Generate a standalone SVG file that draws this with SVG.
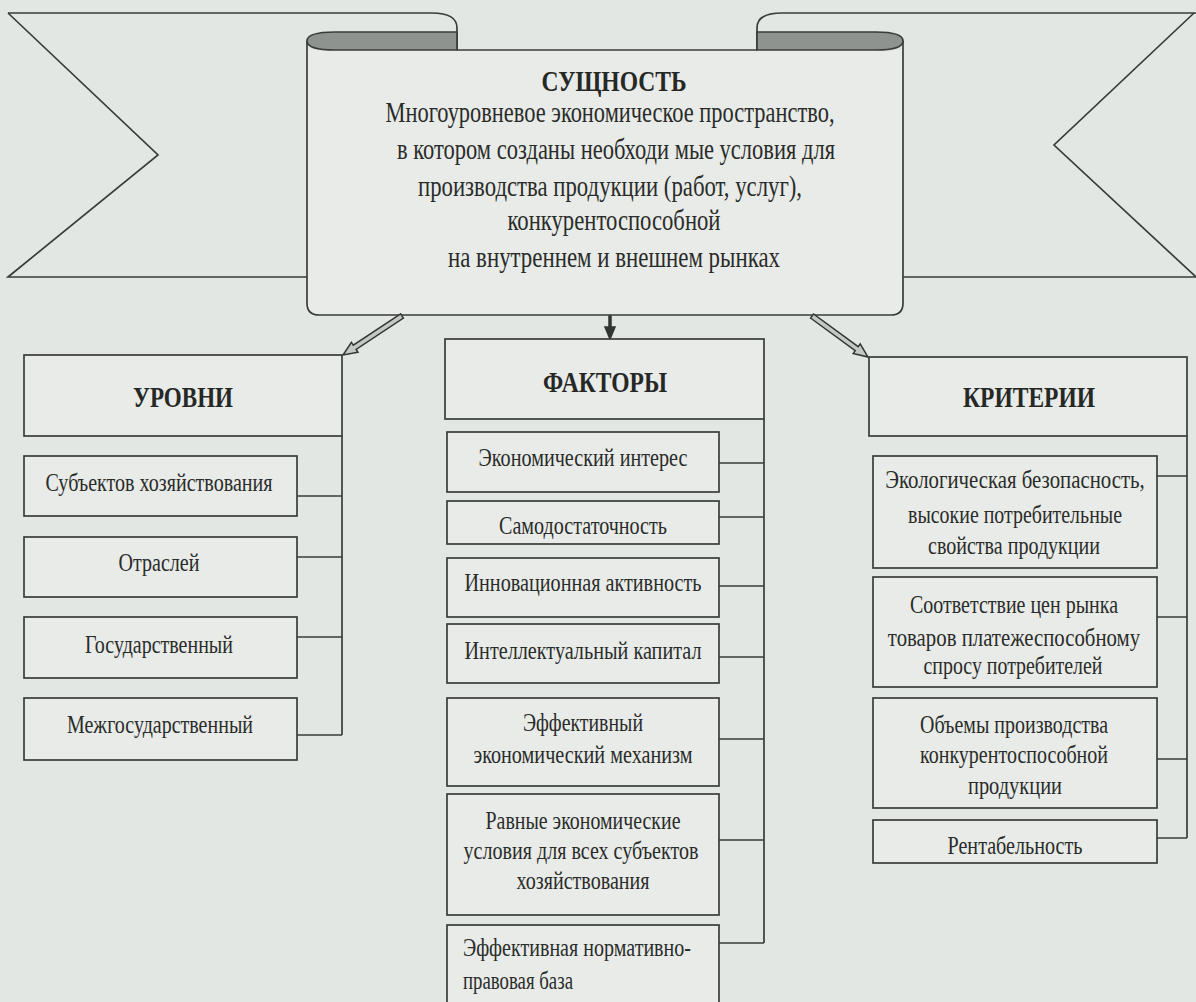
<svg xmlns="http://www.w3.org/2000/svg" width="1196" height="1002" viewBox="0 0 1196 1002">
<style>
.ln{fill:none;stroke:#3a3c3a;stroke-width:1.7}
.bx{fill:#e8ebe8;stroke:#3a3c3a;stroke-width:1.7}
.cap{fill:#8f9390;stroke:#3a3c3a;stroke-width:1.7}
.t{font-family:"Liberation Serif","Times New Roman",serif;font-size:26px;fill:#2a2c2a;text-anchor:middle}
.tl{font-family:"Liberation Serif","Times New Roman",serif;font-size:26px;fill:#2a2c2a;text-anchor:start}
.s{font-family:"Liberation Serif","Times New Roman",serif;font-size:30px;fill:#2a2c2a;text-anchor:middle}
.h{font-family:"Liberation Serif","Times New Roman",serif;font-size:30px;font-weight:bold;fill:#262826;text-anchor:middle}
.ar{fill:#c4c8c4;stroke:#333533;stroke-width:1.5;stroke-linejoin:miter}
</style>
<rect x="0" y="0" width="1196" height="1002" fill="#e3e7e3"/>

<g id="banner">
<path class="ln" d="M8,13 L432,13 Q457,13 457,28 L457,50"/>
<path class="ln" d="M757,50 L757,28 Q757,13 782,13 L1196,13"/>
<path class="ln" d="M8,13 L158,155 L8,277 L307,277"/>
<path class="ln" d="M903,277 L1196,277 M1194,13 L1054,145 L1196,277"/>
</g>

<g id="essence">
<path class="bx" d="M307,41 L307,303 Q307,315 319,315 L891,315 Q903,315 903,303 L903,41 L903,50 L307,50 Z" style="stroke:none"/>
<path class="ln" d="M307,41 L307,303 Q307,315 319,315 L891,315 Q903,315 903,303 L903,41"/>
<path class="ln" d="M457,50 L757,50"/>
<path class="cap" d="M457,32 L335,32 C314,32 307,36 307,41 C307,46 314,50 335,50 L457,50 Z"/>
<path class="cap" d="M757,32 L876,32 C897,32 903,36 903,41 C903,46 897,50 876,50 L757,50 Z"/>
<text class="h" x="614" y="91" textLength="145" lengthAdjust="spacingAndGlyphs">СУЩНОСТЬ</text>
<text class="s" x="610" y="122" textLength="449" lengthAdjust="spacingAndGlyphs">Многоуровневое экономическое пространство,</text>
<text class="s" x="616" y="159" textLength="438" lengthAdjust="spacingAndGlyphs">в котором созданы необходи мые условия для</text>
<text class="s" x="610" y="196" textLength="384" lengthAdjust="spacingAndGlyphs">производства продукции (работ, услуг),</text>
<text class="s" x="614" y="230" textLength="213" lengthAdjust="spacingAndGlyphs">конкурентоспособной</text>
<text class="s" x="614" y="267" textLength="332" lengthAdjust="spacingAndGlyphs">на внутреннем и внешнем рынках</text>
</g>

<g id="connectors">
<polygon class="ar" points="400.6,313.9 353.3,345.2 351.4,342.3 343,355 358.0,352.3 356.1,349.4 403.4,318.1"/>
<polygon class="ar" points="609,316 609,327 605,327 610,339 615,327 611,327 611,316" style="fill:#333533"/>
<polygon class="ar" points="810.5,318.0 855.2,350.7 853.2,353.5 868,357 860.2,343.9 858.2,346.7 813.5,314.0"/>
<path class="ln" d="M342,436 L342,735 M297,496 L342,496 M297,557 L342,557 M297,637 L342,637 M297,735 L342,735"/>
<path class="ln" d="M764,419 L764,943 M719,463 L764,463 M719,517 L764,517 M719,586 L764,586 M719,657 L764,657 M719,739 L764,739 M719,840 L764,840 M719,943 L764,943"/>
<path class="ln" d="M1187,436 L1187,838 M1157,476 L1187,476 M1157,617 L1187,617 M1157,759 L1187,759 M1157,838 L1187,838"/>
</g>

<g id="levels">
<rect class="bx" x="24" y="355" width="318" height="81"/>
<text class="h" x="183" y="407" textLength="100" lengthAdjust="spacingAndGlyphs">УРОВНИ</text>
</g>
<g id="lvl1"><rect class="bx" x="24" y="456" width="273" height="60"/><text class="t" x="159" y="491" textLength="227" lengthAdjust="spacingAndGlyphs">Субъектов хозяйствования</text></g>
<g id="lvl2"><rect class="bx" x="24" y="537" width="273" height="60"/><text class="t" x="159" y="571" textLength="81" lengthAdjust="spacingAndGlyphs">Отраслей</text></g>
<g id="lvl3"><rect class="bx" x="24" y="617" width="273" height="61"/><text class="t" x="159" y="653" textLength="148" lengthAdjust="spacingAndGlyphs">Государственный</text></g>
<g id="lvl4"><rect class="bx" x="24" y="698" width="273" height="62"/><text class="t" x="160" y="733" textLength="186" lengthAdjust="spacingAndGlyphs">Межгосударственный</text></g>

<g id="factors">
<rect class="bx" x="445" y="339" width="319" height="80"/>
<text class="h" x="605" y="392" textLength="124" lengthAdjust="spacingAndGlyphs">ФАКТОРЫ</text>
</g>
<g id="f1"><rect class="bx" x="447" y="432" width="272" height="60"/><text class="t" x="583" y="466" textLength="209" lengthAdjust="spacingAndGlyphs">Экономический интерес</text></g>
<g id="f2"><rect class="bx" x="447" y="501" width="272" height="43"/><text class="t" x="583" y="534" textLength="168" lengthAdjust="spacingAndGlyphs">Самодостаточность</text></g>
<g id="f3"><rect class="bx" x="447" y="558" width="272" height="59"/><text class="t" x="583" y="591" textLength="237" lengthAdjust="spacingAndGlyphs">Инновационная активность</text></g>
<g id="f4"><rect class="bx" x="447" y="624" width="272" height="59"/><text class="t" x="583" y="659" textLength="237" lengthAdjust="spacingAndGlyphs">Интеллектуальный капитал</text></g>
<g id="f5"><rect class="bx" x="447" y="698" width="272" height="88"/>
<text class="t" x="583" y="731" textLength="120" lengthAdjust="spacingAndGlyphs">Эффективный</text>
<text class="t" x="583" y="763" textLength="219" lengthAdjust="spacingAndGlyphs">экономический механизм</text></g>
<g id="f6"><rect class="bx" x="447" y="794" width="272" height="121"/>
<text class="t" x="583" y="829" textLength="195" lengthAdjust="spacingAndGlyphs">Равные экономические</text>
<text class="t" x="581" y="859" textLength="235" lengthAdjust="spacingAndGlyphs">условия для всех субъектов</text>
<text class="t" x="583" y="889" textLength="133" lengthAdjust="spacingAndGlyphs">хозяйствования</text></g>
<g id="f7"><rect class="bx" x="447" y="925" width="272" height="90"/>
<text class="tl" x="463" y="956" textLength="228" lengthAdjust="spacingAndGlyphs">Эффективная нормативно-</text>
<text class="tl" x="463" y="989" textLength="110" lengthAdjust="spacingAndGlyphs">правовая база</text></g>

<g id="criteria">
<rect class="bx" x="869" y="357" width="318" height="79"/>
<text class="h" x="1029" y="407" textLength="132" lengthAdjust="spacingAndGlyphs">КРИТЕРИИ</text>
</g>
<g id="c1"><rect class="bx" x="873" y="456" width="284" height="112"/>
<text class="t" transform="translate(1015,488) scale(0.8,1)" x="0" y="0">Экологическая безопасность,</text>
<text class="t" x="1015" y="523" textLength="214" lengthAdjust="spacingAndGlyphs">высокие потребительные</text>
<text class="t" x="1014" y="554" textLength="172" lengthAdjust="spacingAndGlyphs">свойства продукции</text></g>
<g id="c2"><rect class="bx" x="873" y="577" width="284" height="110"/>
<text class="t" x="1014" y="613" textLength="208" lengthAdjust="spacingAndGlyphs">Соответствие цен рынка</text>
<text class="t" transform="translate(1014,646) scale(0.8,1)" x="0" y="0">товаров платежеспособному</text>
<text class="t" x="1013" y="674" textLength="179" lengthAdjust="spacingAndGlyphs">спросу потребителей</text></g>
<g id="c3"><rect class="bx" x="873" y="698" width="284" height="110"/>
<text class="t" x="1014" y="733" textLength="188" lengthAdjust="spacingAndGlyphs">Объемы производства</text>
<text class="t" x="1014" y="763" textLength="188" lengthAdjust="spacingAndGlyphs">конкурентоспособной</text>
<text class="t" x="1015" y="794" textLength="94" lengthAdjust="spacingAndGlyphs">продукции</text></g>
<g id="c4"><rect class="bx" x="873" y="820" width="284" height="43"/>
<text class="t" x="1015" y="854" textLength="135" lengthAdjust="spacingAndGlyphs">Рентабельность</text></g>
</svg>
